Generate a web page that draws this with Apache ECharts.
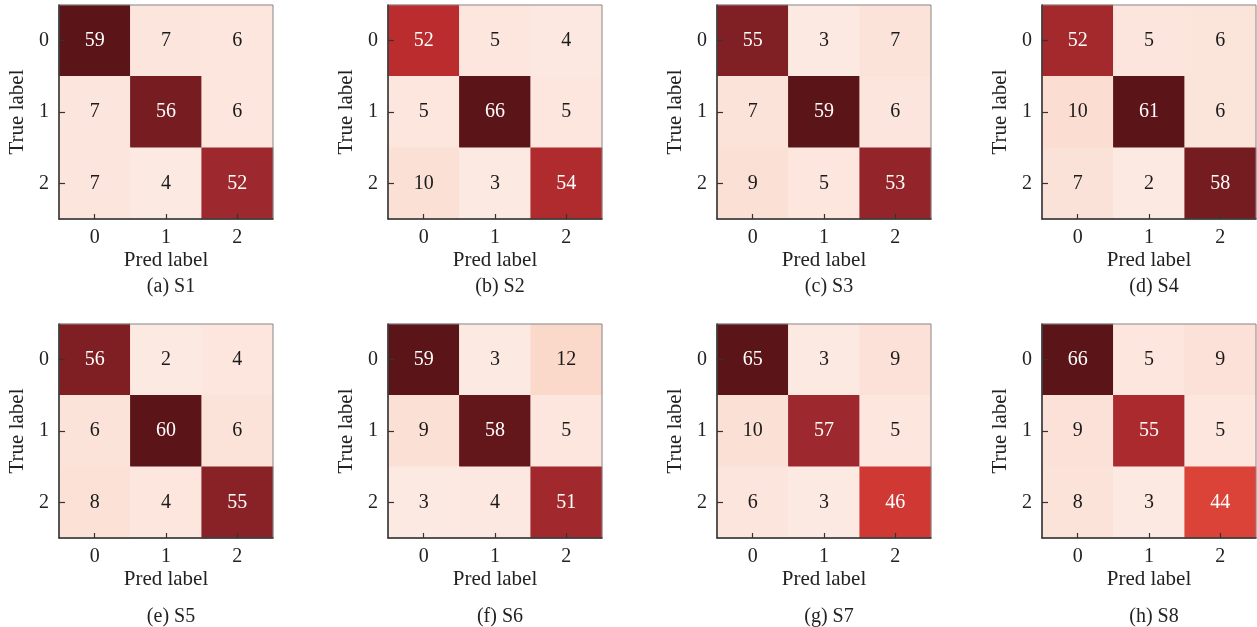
<!DOCTYPE html>
<html>
<head>
<meta charset="utf-8">
<script src="https://cdn.jsdelivr.net/npm/echarts@6/dist/echarts.min.js"></script>
<style>
  html, body { margin: 0; padding: 0; background: #fff; }
  #chart { width: 1257px; height: 627px; }
</style>
</head>
<body>
<div id="chart"></div>
<script>
// Class labels shared by every confusion matrix
const classLabels = ['0', '1', '2'];

// Confusion matrices (rows = true label, columns = predicted label)
const s1 = [[59, 7, 6], [7, 56, 6], [7, 4, 52]];
const s2 = [[52, 5, 4], [5, 66, 5], [10, 3, 54]];
const s3 = [[55, 3, 7], [7, 59, 6], [9, 5, 53]];
const s4 = [[52, 5, 6], [10, 61, 6], [7, 2, 58]];
const s5 = [[56, 2, 4], [6, 60, 6], [8, 4, 55]];
const s6 = [[59, 3, 12], [9, 58, 5], [3, 4, 51]];
const s7 = [[65, 3, 9], [10, 57, 5], [6, 3, 46]];
const s8 = [[66, 5, 9], [9, 55, 5], [8, 3, 44]];

const matrices = [s1, s2, s3, s4, s5, s6, s7, s8];
const captions = ['(a) S1', '(b) S2', '(c) S3', '(d) S4', '(e) S5', '(f) S6', '(g) S7', '(h) S8'];
const xName = 'Pred label';
const yName = 'True label';

// Panel placement (pixels)
const panelLeft = [59, 388, 717, 1042];
const panelTop = [5, 324];
const panelSize = 214;
const captionTop = [272, 602];

// Reds-style ramp, low to high
const ramp = ['#fce9e2', '#fbdfd4', '#f8c6b1', '#f49f83', '#ee765b', '#e1483a', '#c22d2e', '#9c282d', '#5b1417'];

const FONT = 'Liberation Serif';

const grid = [], xAxis = [], yAxis = [], series = [], visualMap = [], title = [];

matrices.forEach((m, i) => {
  const col = i % 4, row = Math.floor(i / 4);
  const left = panelLeft[col], top = panelTop[row];
  grid.push({
    left: left, top: top, width: panelSize, height: panelSize, z: 5,
    show: true, borderColor: '#888', borderWidth: 1, backgroundColor: 'transparent'
  });
  xAxis.push({
    type: 'category', gridIndex: i, data: classLabels, z: 10,
    name: xName, nameLocation: 'middle', nameGap: 31,
    nameTextStyle: { fontFamily: FONT, fontSize: 21, color: '#222' },
    axisLine: { show: true, lineStyle: { color: '#333', width: 1.5 } },
    axisTick: { show: true, inside: true, alignWithLabel: true, length: 5, lineStyle: { color: '#333', width: 1.2 } },
    axisLabel: { fontFamily: FONT, fontSize: 20, color: '#222', margin: 9 },
    splitLine: { show: false }
  });
  yAxis.push({
    type: 'category', gridIndex: i, data: classLabels, inverse: true, z: 10,
    name: yName, nameLocation: 'middle', nameGap: 31,
    nameTextStyle: { fontFamily: FONT, fontSize: 21, color: '#222' },
    axisLine: { show: true, lineStyle: { color: '#333', width: 1.5 } },
    axisTick: { show: true, inside: true, alignWithLabel: true, length: 6, lineStyle: { color: '#333', width: 1.2 } },
    axisLabel: { fontFamily: FONT, fontSize: 20, color: '#222', margin: 10 },
    splitLine: { show: false }
  });
  const flat = m.flat();
  const vmin = Math.min.apply(null, flat), vmax = Math.max.apply(null, flat);
  const mid = (vmin + vmax) / 2;
  const data = [];
  m.forEach((r, ti) => r.forEach((v, pi) => {
    data.push({
      value: [pi, ti, v],
      label: { color: v > mid ? '#ffffff' : '#1a1a1a' }
    });
  }));
  visualMap.push({
    type: 'continuous', show: false, seriesIndex: i, dimension: 2,
    min: vmin, max: vmax, inRange: { color: ramp }
  });
  series.push({
    type: 'heatmap', xAxisIndex: i, yAxisIndex: i, data: data, z: 2,
    label: { show: true, fontFamily: FONT, fontSize: 20, formatter: p => String(p.value[2]) },
    itemStyle: { borderWidth: 0 },
    emphasis: { disabled: true }
  });
  title.push({
    text: captions[i], left: left + panelSize / 2, top: captionTop[row], textAlign: 'center',
    textStyle: { fontFamily: FONT, fontSize: 20, fontWeight: 'normal', color: '#222' }
  });
});

const chart = echarts.init(document.getElementById('chart'), null, { renderer: 'canvas' });
chart.setOption({
  backgroundColor: '#ffffff',
  animation: false,
  title: title,
  grid: grid,
  xAxis: xAxis,
  yAxis: yAxis,
  visualMap: visualMap,
  series: series
});
</script>
</body>
</html>
